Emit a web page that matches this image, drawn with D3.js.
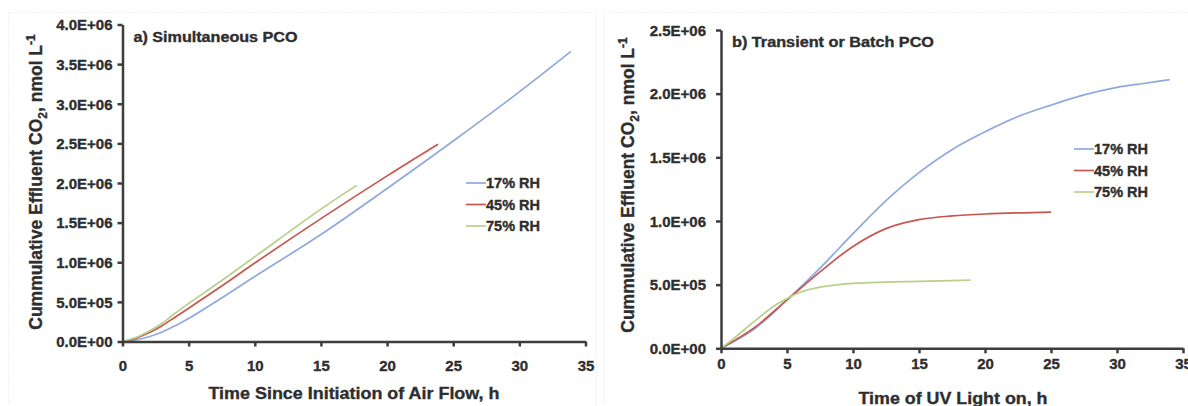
<!DOCTYPE html>
<html>
<head>
<meta charset="utf-8">
<script src="https://cdn.jsdelivr.net/npm/d3@7"></script>
<style>
  html, body { margin: 0; padding: 0; background: #fff; }
  svg { display: block; font-family: "Liberation Sans", Arial, sans-serif; }
</style>
</head>
<body>
<svg id="chart" width="1188" height="406"></svg>
<script>
// Series labels and colours
const seriesNames = ["17% RH", "45% RH", "75% RH"];
const seriesColors = ["#8fa9dd", "#c85650", "#b7d08a"];

// Panel a: simultaneous PCO, cumulative effluent CO2 vs. time since air flow start
const timeA17 = [0, 1, 2, 3, 4, 5, 7.5, 10, 15, 20, 25, 30, 33.9];
const co2A17  = [0, 0.02e6, 0.06e6, 0.12e6, 0.2e6, 0.29e6, 0.55e6, 0.82e6, 1.35e6, 1.93e6, 2.53e6, 3.15e6, 3.66e6];
const timeA45 = [0, 1, 2, 3, 4, 5, 7.5, 10, 15, 20, 23.85];
const co2A45  = [0, 0.04e6, 0.11e6, 0.2e6, 0.31e6, 0.42e6, 0.7e6, 0.99e6, 1.55e6, 2.09e6, 2.49e6];
const timeA75 = [0, 1, 2, 3, 4, 5, 7.5, 10, 15, 17.7];
const co2A75  = [0, 0.05e6, 0.13e6, 0.23e6, 0.36e6, 0.48e6, 0.77e6, 1.07e6, 1.67e6, 1.97e6];

// Panel b: transient / batch PCO, cumulative effluent CO2 vs. UV-on time
const timeB17 = [0, 2.5, 5, 7.5, 10, 12.5, 15, 17.5, 20, 22.5, 25, 27.5, 30, 32, 34];
const co2B17  = [0, 0.15e6, 0.38e6, 0.63e6, 0.9e6, 1.16e6, 1.38e6, 1.56e6, 1.70e6, 1.82e6, 1.91e6, 1.99e6, 2.05e6, 2.08e6, 2.11e6];
const timeB45 = [0, 2.5, 5, 7.5, 10, 12.5, 15, 17.5, 20, 25];
const co2B45  = [0, 0.16e6, 0.38e6, 0.6e6, 0.8e6, 0.94e6, 1.01e6, 1.04e6, 1.055e6, 1.07e6];
const timeB75 = [0, 1, 2.5, 4, 5, 6, 7.5, 10, 12.5, 15, 18.9];
const co2B75  = [0, 0.08e6, 0.21e6, 0.33e6, 0.39e6, 0.44e6, 0.48e6, 0.51e6, 0.52e6, 0.525e6, 0.535e6];

// Axis ticks
const xTicks = [0, 5, 10, 15, 20, 25, 30, 35];
const yTicksA = [0, 0.5e6, 1e6, 1.5e6, 2e6, 2.5e6, 3e6, 3.5e6, 4e6];
const yTicksB = [0, 0.5e6, 1e6, 1.5e6, 2e6, 2.5e6];

const zip = (xs, ys) => xs.map((x, i) => ({x, y: ys[i]}));
const sci = v => {
  if (v === 0) return "0.0E+00";
  const e = Math.floor(Math.log10(v));
  const m = v / Math.pow(10, e);
  return m.toFixed(1) + "E+" + String(e).padStart(2, "0");
};

const svg = d3.select("#chart");
const textColor = "#2e2e2e";
const axisColor = "#3d3d3d";

// faint dotted panel frames
svg.append("rect").attr("x", 8.5).attr("y", 12.5).attr("width", 588).attr("height", 400)
  .attr("fill", "none").attr("stroke", "#e2e2e2").attr("stroke-dasharray", "1,2");
svg.append("rect").attr("x", 604.5).attr("y", 12.5).attr("width", 600).attr("height", 400)
  .attr("fill", "none").attr("stroke", "#e2e2e2").attr("stroke-dasharray", "1,2");

function boldText(sel, size) {
  return sel.attr("fill", textColor).attr("font-size", size).attr("font-weight", "bold")
    .attr("stroke", textColor).attr("stroke-width", 0.35);
}

function panel(cfg) {
  const g = svg.append("g");
  const x = d3.scaleLinear().domain([0, 35]).range([cfg.x0, cfg.x1]);
  const y = d3.scaleLinear().domain([0, cfg.yMax]).range([cfg.y0, cfg.y1]);

  // series lines
  const line = d3.line().x(d => x(d.x)).y(d => y(d.y)).curve(d3.curveCatmullRom.alpha(0.5));
  cfg.series.forEach((s, i) => {
    g.append("path").datum(s).attr("d", line)
      .attr("fill", "none").attr("stroke", seriesColors[i]).attr("stroke-width", 1.7);
  });

  // x axis
  const xa = g.append("g").attr("transform", `translate(0,${cfg.y0})`)
    .call(d3.axisBottom(x).tickValues(xTicks).tickSize(5).tickPadding(cfg.xPad).tickSizeOuter(0).tickFormat(d3.format("d")));
  // y axis
  const ya = g.append("g").attr("transform", `translate(${cfg.x0},0)`)
    .call(d3.axisLeft(y).tickValues(cfg.yTicks).tickSize(5).tickPadding(cfg.yPad).tickSizeOuter(0).tickFormat(sci));
  [xa, ya].forEach(a => {
    a.select(".domain").attr("stroke", axisColor).attr("stroke-width", 2.5);
    a.selectAll(".tick line").attr("stroke", axisColor).attr("stroke-width", 2.5);
    boldText(a.selectAll(".tick text"), 15);
  });
  ya.selectAll(".tick text").attr("dy", "0.35em");

  // panel caption
  boldText(g.append("text"), 14).attr("x", cfg.x0 + 11).attr("y", cfg.captionY)
    .attr("textLength", cfg.captionW).attr("lengthAdjust", "spacingAndGlyphs")
    .text(cfg.caption);

  // legend
  seriesNames.forEach((name, i) => {
    const ly = cfg.legY + i * 21.5;
    g.append("line").attr("x1", cfg.legX).attr("x2", cfg.legX + 20).attr("y1", ly).attr("y2", ly)
      .attr("stroke", seriesColors[i]).attr("stroke-width", 1.7);
    boldText(g.append("text"), 14).attr("x", cfg.legX + 20).attr("y", ly).attr("dy", "0.36em")
      .attr("textLength", 54).attr("lengthAdjust", "spacingAndGlyphs").text(name);
  });

  // axis titles
  boldText(g.append("text"), 16.5).attr("x", cfg.xTitleX).attr("y", cfg.xTitleY)
    .attr("text-anchor", "middle")
    .attr("textLength", cfg.xTitleW).attr("lengthAdjust", "spacingAndGlyphs")
    .text(cfg.xTitle);

  const yt = boldText(g.append("text"), 17.5)
    .attr("transform", `translate(${cfg.yTitleX},${cfg.yTitleCY}) rotate(-90)`)
    .attr("text-anchor", "middle");
  yt.append("tspan").text("Cummulative Effluent CO");
  yt.append("tspan").attr("font-size", 12).attr("dy", 5).text("2");
  yt.append("tspan").attr("dy", -5).text(", nmol L");
  yt.append("tspan").attr("font-size", 12).attr("dy", -7).text("-1");
}

panel({
  x0: 122.5, x1: 585.5, y0: 341.5, y1: 24.5, yMax: 4e6, yTicks: yTicksA,
  xPad: 14, yPad: 5,
  series: [zip(timeA17, co2A17), zip(timeA45, co2A45), zip(timeA75, co2A75)],
  caption: "a) Simultaneous PCO", captionY: 42, captionW: 164,
  legX: 466, legY: 183,
  xTitle: "Time Since Initiation of Air Flow, h", xTitleX: 354, xTitleY: 399, xTitleW: 291,
  yTitleX: 42, yTitleCY: 182
});

panel({
  x0: 721, x1: 1183, y0: 348.3, y1: 30, yMax: 2.5e6, yTicks: yTicksB,
  xPad: 5, yPad: 10,
  series: [zip(timeB17, co2B17), zip(timeB45, co2B45), zip(timeB75, co2B75)],
  caption: "b) Transient or Batch PCO", captionY: 47, captionW: 202,
  legX: 1074, legY: 149,
  xTitle: "Time of UV Light on, h", xTitleX: 953, xTitleY: 404, xTitleW: 189,
  yTitleX: 634, yTitleCY: 185
});
</script>
</body>
</html>
